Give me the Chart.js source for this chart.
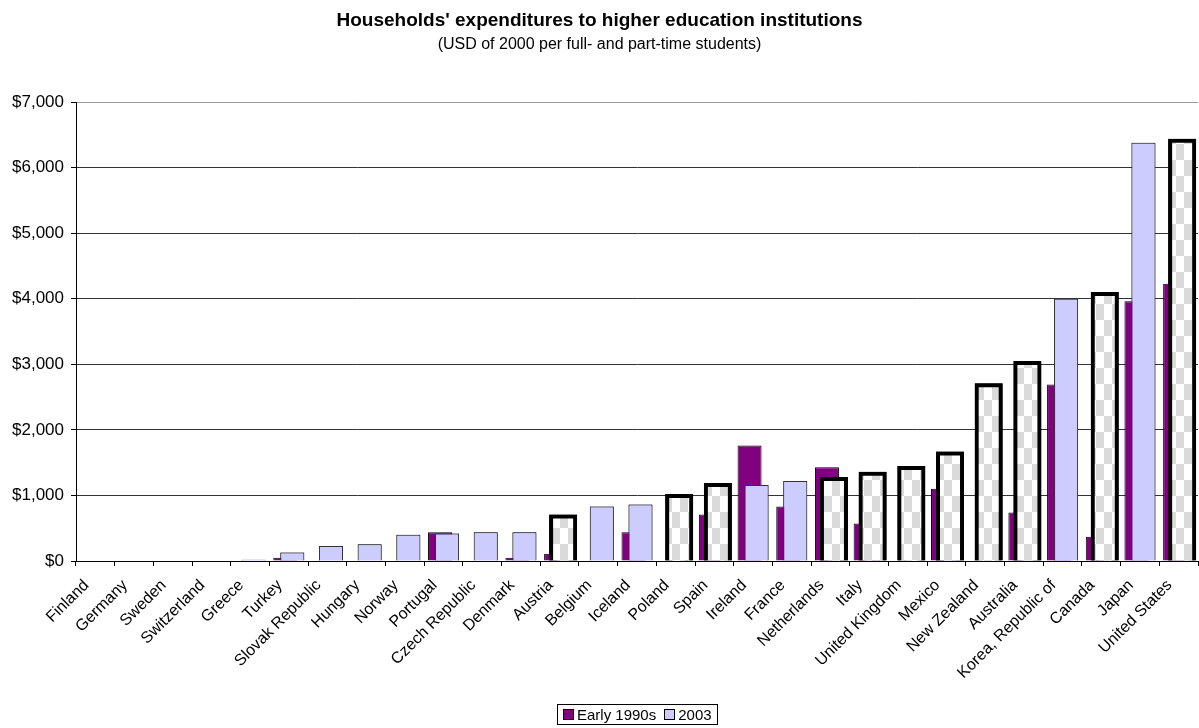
<!DOCTYPE html>
<html>
<head>
<meta charset="utf-8">
<script src="https://cdn.jsdelivr.net/npm/chart.js@4"></script>
<style>
  html, body { margin: 0; padding: 0; background: #fff; }
  #wrap { position: relative; width: 1199px; height: 728px; }
  #legend {
    position: absolute; left: 557px; top: 704px; height: 21px;
    border: 1px solid #000; padding: 0 5px 0 5px; box-sizing: border-box;
    font: 15px 'Liberation Sans', Arial, sans-serif; color: #000;
    display: flex; align-items: center; white-space: nowrap;
  }
  #legend .sw { display: inline-block; width: 9px; height: 9px; border: 1px solid #000; margin-right: 3px; }
  #legend .it { display: flex; align-items: center; margin-right: 8px; }
  #legend .it:last-child { margin-right: 0; }
</style>
</head>
<body>
<div id="wrap">
  <canvas id="chartHogares" width="1199" height="728"></canvas>
  <div id="legend"></div>
</div>
<script>
// ── Data ──
const countries = [
  'Finland', 'Germany', 'Sweden', 'Switzerland', 'Greece', 'Turkey', 'Slovak Republic',
  'Hungary', 'Norway', 'Portugal', 'Czech Republic', 'Denmark', 'Austria', 'Belgium',
  'Iceland', 'Poland', 'Spain', 'Ireland', 'France', 'Netherlands', 'Italy',
  'United Kingdom', 'Mexico', 'New Zealand', 'Australia', 'Korea, Republic of',
  'Canada', 'Japan', 'United States'
];
const early1990s = [null, null, null, null, null, 50, null, null, null, 440, null, 50, 110, null,
  440, null, 710, 1760, 830, 1430, 570, null, 1100, null, 740, 2690, 370, 3960, 4230];
const y2003 = [null, null, null, null, 20, 130, 230, 255, 400, 420, 440, 440, 680, 830,
  860, 990, 1160, 1160, 1220, 1250, 1330, 1420, 1640, 2680, 3020, 4000, 4070, 6380, 6410];
// 2003 bars drawn with the heavy outline and checker fill
const hatched = ['Austria', 'Poland', 'Spain', 'Netherlands', 'Italy', 'United Kingdom',
  'Mexico', 'New Zealand', 'Australia', 'Canada', 'United States'];
const yTicks = [0, 1000, 2000, 3000, 4000, 5000, 6000, 7000];

const PURPLE = '#800080';
const LAVENDER = '#CCCCFF';
const FONT = "'Liberation Sans', Arial, sans-serif";

function checker() {
  const c = document.createElement('canvas');
  c.width = 16; c.height = 32;
  const g = c.getContext('2d');
  g.fillStyle = '#fff';
  g.fillRect(0, 0, 16, 32);
  g.fillStyle = '#dadada';
  g.fillRect(0, 0, 8, 16);
  g.fillRect(8, 16, 8, 16);
  return g.createPattern(c, 'repeat');
}

const isHatched = i => hatched.includes(countries[i]);
const pattern = checker();

// 2003 goes over the early bar, so paint it again once both are drawn
const frontPlugin = {
  id: 'front2003',
  afterDatasetsDraw(chart) {
    const meta = chart.getDatasetMeta(1);
    if (meta && !meta.hidden) meta.controller.draw();
  }
};

const canvas = document.getElementById('chartHogares');
const chart = new Chart(canvas, {
  type: 'bar',
  data: {
    labels: countries,
    datasets: [
      {
        label: 'Early 1990s', data: early1990s,
        backgroundColor: PURPLE, borderColor: '#000', borderWidth: 1,
        categoryPercentage: 0.362, barPercentage: 3.43, inflateAmount: 0
      },
      {
        label: '2003', data: y2003,
        backgroundColor: c => isHatched(c.dataIndex) ? pattern : LAVENDER,
        borderColor: c => isHatched(c.dataIndex) ? '#000' : '#333',
        borderWidth: c => isHatched(c.dataIndex) ? 4 : 1,
        inflateAmount: c => isHatched(c.dataIndex) ? 2 : 0,
        categoryPercentage: 0.362, barPercentage: 3.43
      }
    ]
  },
  options: {
    responsive: false, animation: false,
    layout: { padding: { left: 0, right: 0, top: 0, bottom: 0 } },
    plugins: {
      legend: { display: false },
      tooltip: { enabled: false },
      title: {
        display: true, text: "Households' expenditures to higher education institutions",
        color: '#000', font: { family: FONT, size: 19, weight: 'bold', lineHeight: 1.2 },
        padding: { top: 9, bottom: 3 }
      },
      subtitle: {
        display: true, text: '(USD of 2000 per full- and part-time students)',
        color: '#000', font: { family: FONT, size: 16, lineHeight: 1.2 },
        padding: { top: 0, bottom: 48 }
      }
    },
    scales: {
      x: {
        z: 1,
        afterFit: s => { s.height = 167; s.paddingRight = 1; },
        grid: { display: true, drawOnChartArea: false, offset: true, color: '#000', tickLength: 5 },
        border: { display: true, color: '#000', width: 1 },
        ticks: {
          color: '#000', font: { family: FONT, size: 16 },
          minRotation: 45, maxRotation: 45, autoSkip: false, padding: 10, labelOffset: -9
        }
      },
      y: {
        min: 0, max: 7000,
        afterFit: s => { s.width = 76; },
        afterBuildTicks: s => { s.ticks = yTicks.map(v => ({ value: v })); },
        grid: {
          color: c => c.tick && c.tick.value === 7000 ? '#999' : '#333',
          tickColor: '#000', tickLength: 5
        },
        border: { display: true, color: '#000', width: 1 },
        ticks: {
          color: '#000', font: { family: FONT, size: 17 }, padding: 7,
          callback: v => '$' + v.toLocaleString('en-US')
        }
      }
    }
  },
  plugins: [frontPlugin]
});

// Legend box under the plot
const legendEl = document.getElementById('legend');
legendEl.innerHTML = chart.data.datasets.map((d, i) =>
  `<span class="it"><span class="sw" style="background:${i === 0 ? PURPLE : LAVENDER}"></span>${d.label}</span>`
).join('');
</script>
</body>
</html>
